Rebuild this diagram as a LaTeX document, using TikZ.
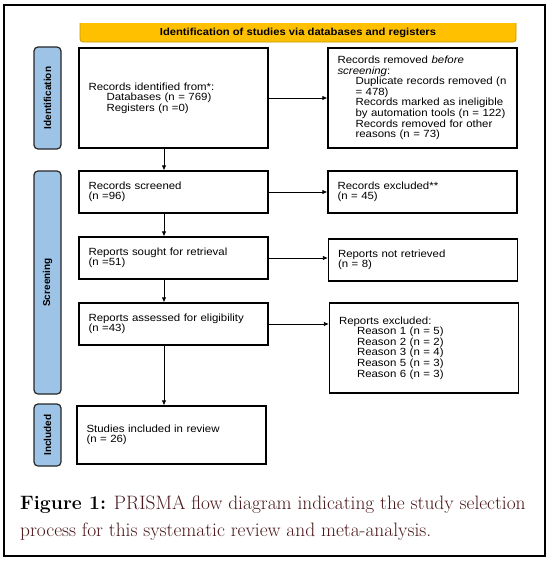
\documentclass[tikz,border=0pt]{standalone}
\usepackage{fontspec}
\newfontfamily\boxfont[FakeStretch=1.1]{Liberation Sans}
\newfontfamily\labfont{Liberation Sans}
\usetikzlibrary{arrows.meta,calc}
\definecolor{labblue}{HTML}{9DC3E6}
\definecolor{bannery}{HTML}{FFC000}
\definecolor{banneredge}{HTML}{C99700}
\definecolor{capred}{HTML}{4A181C}
\newcommand{\ind}{\hspace*{18pt}}
\begin{document}
\begin{tikzpicture}[x=1pt,y=-1pt,
  flowbox/.style={draw=black, line width=1.3pt, minimum width=189pt, text width=170pt,
    inner xsep=9.5pt, inner ysep=0pt, align=left,
    font=\boxfont\fontsize{10.4}{10.6}\selectfont},
  sidelab/.style={draw=black!85, fill=labblue, line width=1.2pt, rounded corners=4pt,
    minimum height=27pt, inner sep=0pt, rotate=90,
    font=\labfont\bfseries\fontsize{10}{10}\selectfont},
  arr/.style={-{Latex[length=5pt,width=4.5pt]}, line width=0.8pt}]
\useasboundingbox (0,0) rectangle (552,565);
\fill[white] (0,0) rectangle (552,565);
% outer frame
\draw[line width=1.2pt] (4,5) rectangle (545,556);
% banner
\draw[banneredge, fill=bannery, line width=0.8pt, rounded corners=3pt]
  (80,23) -- (80,42) -- (516,42) -- (516,23);
\node[font=\boxfont\bfseries\fontsize{10.2}{10}\selectfont, inner sep=0pt] (ban) at (298,32.5)
  {Identification of studies via databases and registers};
% side labels
\node[sidelab, minimum width=102pt] (lid) at (47.5,98) {Identification};
\node[sidelab, minimum width=223pt] (lsc) at (47.5,282.5) {Screening};
\node[sidelab, minimum width=62pt] (lin) at (47.5,435) {Included};
% boxes
\node[flowbox, minimum height=100pt] (b1) at (173.5,98)
  {Records identified from*:\\\ind Databases (n = 769)\\\ind Registers (n =0)};
\node[flowbox, minimum height=100pt] (b2) at (422.5,98)
  {Records removed \textit{before}\\\textit{screening}:\\
   \ind Duplicate records removed (n\\\ind = 478)\\
   \ind Records marked as ineligible\\\ind by automation tools (n = 122)\\
   \ind Records removed for other\\\ind reasons (n = 73)};
\node[flowbox, minimum height=42pt] (b3) at (173.5,192) {Records screened\\(n =96)};
\node[flowbox, minimum height=42pt] (b4) at (422.5,192) {Records excluded**\\(n = 45)};
\node[flowbox, minimum height=42pt] (b5) at (173.5,258) {Reports sought for retrieval\\(n =51)};
\node[flowbox, minimum height=42pt] (b6) at (423,260) {Reports not retrieved\\(n = 8)};
\node[flowbox, minimum height=42pt] (b7) at (173.5,324) {Reports assessed for eligibility\\(n =43)};
\node[flowbox, minimum height=90pt, minimum width=188pt] (b8) at (424,348)
  {Reports excluded:\\\ind Reason 1 (n = 5)\\\ind Reason 2 (n = 2)\\\ind Reason 3 (n = 4)\\
   \ind Reason 5 (n = 3)\\\ind Reason 6 (n = 3)};
\node[flowbox, minimum height=58pt] (b9) at (171.5,435) {Studies included in review\\(n = 26)\\[6pt]};
% arrows
\coordinate (ax) at (164,0);
\draw[arr] (b1.east) -- (b1.east -| b2.west);
\draw[arr] (b3.east) -- (b3.east -| b4.west);
\draw[arr] (b5.east) -- (b5.east -| b6.west);
\draw[arr] (b7.east) -- (b7.east -| b8.west);
\draw[arr] (b1.south -| ax) -- (b3.north -| ax);
\draw[arr] (b3.south -| ax) -- (b5.north -| ax);
\draw[arr] (b5.south -| ax) -- (b7.north -| ax);
\draw[arr] (b7.south -| ax) -- (b9.north -| ax);
% caption
\node[anchor=base west, inner sep=0pt, font=\fontsize{19.4}{22}\selectfont] (cap1) at (20,509)
  {\textbf{Figure 1:} \textcolor{capred}{PRISMA flow diagram indicating the study selection}};
\node[anchor=base west, inner sep=0pt, font=\fontsize{19.4}{22}\selectfont] (cap2) at (20,536)
  {\textcolor{capred}{process for this systematic review and meta-analysis.}};
\end{tikzpicture}
\end{document}
